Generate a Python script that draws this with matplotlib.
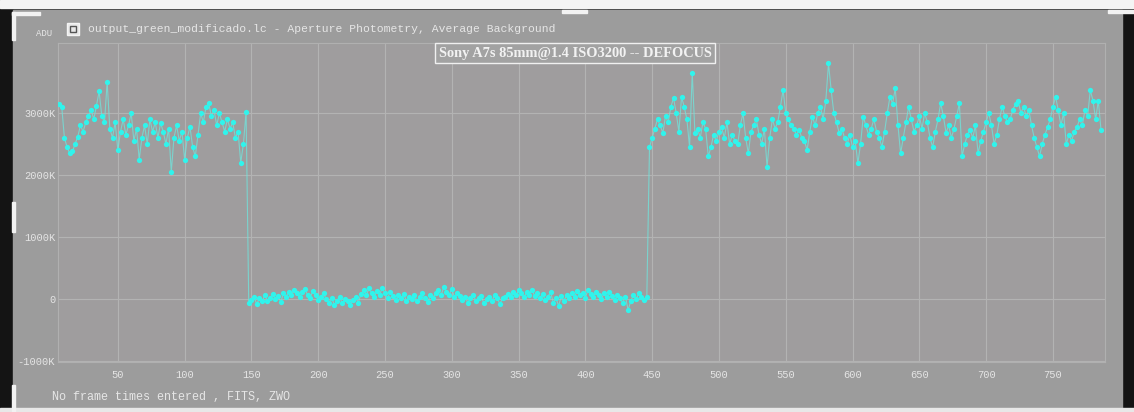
import numpy as np
import matplotlib.pyplot as plt
from matplotlib.patches import Rectangle

# frame values (ADU, thousands), every 2nd frame
before = [3150, 3100, 2600, 2450, 2350, 2380, 2500, 2620, 2800, 2700,
          2850, 2950, 3050, 2900, 3120, 3350, 2950, 2850, 3500, 2750,
          2600, 2850, 2400, 2700, 2900, 2650, 2800, 3000, 2550, 2750,
          2250, 2600, 2800, 2500, 2900, 2700, 2850, 2600, 2840, 2700,
          2500, 2750, 2050, 2600, 2800, 2550, 2700, 2250, 2600, 2780,
          2450, 2300, 2650, 3000, 2850, 3100, 3160, 2950, 3050, 2800,
          3000, 2850, 2700, 2900, 2750, 2850, 2600, 2700, 2200, 2500,
          3020]
covered = [-60, -20, 30, -80, 10, -40, 60, -30, 20, 80,
           0, 50, -50, 100, 40, 120, 60, 150, 90, 30,
           110, 160, 70, 20, 130, 60, -10, 40, 90, 0,
           -60, 20, -90, -30, 40, -70, 0, -40, -100, -20,
           30, -60, 80, 140, 60, 170, 100, 40, 130, 70,
           180, 90, 20, 110, 50, -20, 60, 10, 80, -30,
           40, 0, 70, -40, 30, 90, 10, -50, 60, 20,
           100, 150, 60, 190, 120, 70, 160, 30, 90, 50,
           -10, 40, -60, 20, 70, -30, 10, 50, -70, 0,
           30, -40, 60, 20, -80, 10, 40, 80, 30, 120,
           60, 140, 90, 30, 110, 70, 150, 50, 100, 20,
           80, -20, 40, 110, -60, 10, -110, 50, -30, 70,
           20, 90, 40, 130, 60, 100, 20, 150, 80, 40,
           110, 60, 0, 90, 30, 120, 50, -20, 70, 10,
           -60, 40, -180, -30, 60, 0, 90, 30, -20, 40]
after = [2450, 2600, 2750, 2900, 2800, 2680, 2950, 2850, 3100, 3240,
         3000, 2700, 3260, 3100, 2900, 2450, 3650, 2680, 2750, 2600,
         2850, 2750, 2300, 2450, 2650, 2550, 2700, 2770, 2600, 2850,
         2500, 2650, 2550, 2500, 2800, 3000, 2600, 2350, 2700, 2800,
         2900, 2650, 2500, 2750, 2130, 2600, 2900, 2750, 2850, 3100,
         3370, 3000, 2900, 2800, 2750, 2650, 2730, 2600, 2550, 2400,
         2700, 2940, 2800, 3000, 3100, 2900, 3200, 3800, 3370, 3000,
         2850, 2680, 2750, 2600, 2500, 2650, 2450, 2550, 2190, 2500,
         2940, 2800, 2650, 2750, 2900, 2700, 2600, 2450, 2700, 3000,
         3260, 3150, 3400, 2800, 2350, 2600, 2850, 3100, 2900, 2700,
         2800, 2950, 2750, 3000, 2850, 2600, 2450, 2700, 2900, 3160,
         2950, 2680, 2800, 2600, 2750, 2950, 3160, 2300, 2500, 2650,
         2730, 2600, 2800, 2350, 2550, 2700, 2850, 3000, 2800, 2500,
         2650, 2900, 3100, 2950, 2850, 2900, 3050, 3150, 3200, 3000,
         3100, 2950, 3050, 2800, 2600, 2450, 2300, 2500, 2650, 2770,
         2900, 3100, 3260, 3050, 2800, 3000, 2500, 2650, 2550, 2700,
         2770, 2900, 2800, 3050, 2950, 3370, 3200, 2900, 3200, 2730]

flux = before + covered + after
frames = np.arange(6, 6 + 2 * len(flux), 2)

y_ticks = [-1000, 0, 1000, 2000, 3000]
y_labels = ['-1000K', '0', '1000K', '2000K', '3000K']
x_ticks = [50, 100, 150, 200, 250, 300, 350, 400, 450, 500, 550, 600, 650, 700, 750]

W, H = 1134, 412
fig = plt.figure(figsize=(W / 100, H / 100), dpi=100, facecolor='#141414')

# screen panel + window bits (behind the axes)
fig.patches.append(Rectangle((0, 1 - 8 / H), 1, 8 / H, transform=fig.transFigure,
                             color='#f4f4f4', zorder=-3))
fig.patches.append(Rectangle((13 / W, 4 / H), (1122 - 13) / W, 398 / H,
                             transform=fig.transFigure, color='#9c9c9c', zorder=-3))
fig.patches.append(Rectangle((0, 0), 1, 4 / H, transform=fig.transFigure,
                             color='#e8e8e8', zorder=-3))
for (x, y, w, h) in [(12, 12, 28, 3), (12, 12, 3, 28), (12, 202, 3, 30), (12, 385, 3, 27),
                     (562, 10, 25, 3), (1108, 10, 26, 3)]:
    fig.patches.append(Rectangle((x / W, 1 - (y + h) / H), w / W, h / H,
                                 transform=fig.transFigure, color='#f2f2f2', zorder=-2))

ax = fig.add_axes([58 / W, 1 - 362 / H, (1105 - 58) / W, (362 - 43) / H])
ax.set_facecolor('#9f9d9e')
ax.plot(frames, flux, color='#6fe6de', lw=0.8, alpha=0.75, zorder=3)
ax.plot(frames, flux, 'o', color='#30f4ec', ms=3.8, mec='none', zorder=4)

ax.set_xlim(5.2, 789)
ax.set_ylim(-1016, 4130)
ax.set_xticks(x_ticks)
ax.set_yticks(y_ticks)
ax.set_yticklabels(y_labels)
ax.grid(True, color='#b3b3b3', lw=0.8)
ax.set_axisbelow(True)
for s in ax.spines.values():
    s.set_color('#b0b0b0')
    s.set_linewidth(0.8)
ax.tick_params(length=0, colors='#e4e4e4', labelsize=7.5, pad=6)
ax.tick_params(axis='y', pad=2)
for lab in ax.get_xticklabels() + ax.get_yticklabels():
    lab.set_family('Liberation Mono')

mono = dict(family='Liberation Mono', color='#e6e6e6')
fig.text(36 / W, 1 - 33 / H, 'ADU', fontsize=6.5, va='center', **mono)
# small window icon
fig.patches.append(Rectangle((67 / W, 1 - 35 / H), 12 / W, 12 / H, transform=fig.transFigure,
                             facecolor='#e8e8e8', edgecolor='#f4f4f4', lw=1.0, zorder=2))
fig.patches.append(Rectangle((70 / W, 1 - 32 / H), 6 / W, 6 / H, transform=fig.transFigure,
                             facecolor='none', edgecolor='#555555', lw=1.0, zorder=3))
fig.text(88 / W, 1 - 29 / H,
         'output_green_modificado.lc - Aperture Photometry, Average Background',
         fontsize=8.2, va='center', **mono)
fig.text(52 / W, 1 - 397 / H, 'No frame times entered , FITS, ZWO',
         fontsize=8.5, va='center', **mono)
fig.text(575 / W, 1 - 53 / H, 'Sony A7s 85mm@1.4 ISO3200 -- DEFOCUS',
         family='Liberation Serif', weight='bold', fontsize=10.4, color='#f2f2f2',
         ha='center', va='center', zorder=5,
         bbox=dict(boxstyle='square,pad=0.25', facecolor='#a2a2a2',
                   edgecolor='#f0f0f0', lw=1.0))

fig.savefig('out.png', dpi=100, facecolor=fig.get_facecolor())
